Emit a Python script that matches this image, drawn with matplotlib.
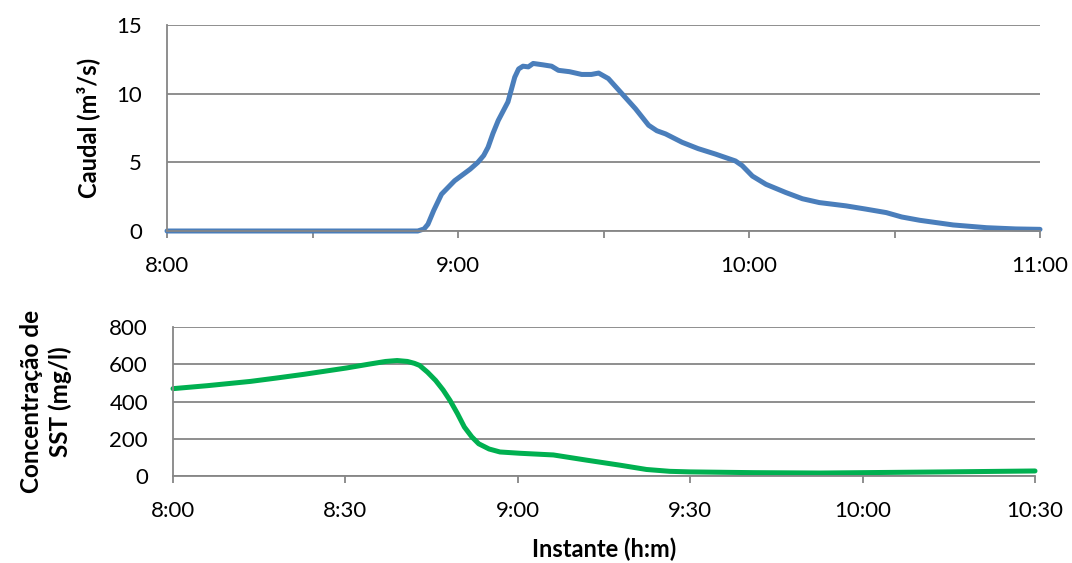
import matplotlib.pyplot as plt

plt.rcParams['font.family'] = ['Lato', 'DejaVu Sans']

# minutes after 8:00
caudal_t = [0, 51.7, 53.0, 53.8, 55.0, 56.6, 59.3, 62.5, 64.1, 65.3, 66.2, 67.2, 68.3,
            70.3, 71.0, 71.7, 72.5, 73.4, 74.5, 75.5, 77.5, 79.3, 80.7, 83.0, 85.5,
            87.5, 89.0, 91.0, 93.8, 96.6, 99.3, 101.0, 102.8, 106.2, 109.5, 113.1,
            117.2, 118.6, 120.7, 123.5, 127.6, 131.0, 134.5, 140.0, 144.0, 148.3,
            151.5, 155.2, 162.1, 169.0, 175.0, 180.0]
caudal_q = [0, 0, 0.15, 0.49, 1.5, 2.68, 3.66, 4.5, 5.0, 5.5, 6.1, 7.1, 8.05,
            9.4, 10.3, 11.2, 11.8, 12.0, 11.95, 12.2, 12.1, 12.0, 11.7, 11.6, 11.4,
            11.4, 11.5, 11.1, 10.0, 8.9, 7.7, 7.3, 7.07, 6.46, 6.0, 5.6,
            5.1, 4.76, 4.0, 3.4, 2.8, 2.35, 2.07, 1.83, 1.6, 1.34,
            1.02, 0.78, 0.44, 0.24, 0.15, 0.12]

sst_t = [0, 6.0, 13.5, 18.0, 22.8, 30.2, 34.0, 37.0, 39.0, 40.8, 42.0, 42.9, 44.3,
         45.7, 47.0, 48.2, 49.5, 50.7, 52.0, 53.2, 55.0, 56.9, 60.4, 66.2, 72.0,
         77.8, 82.4, 86.5, 90.0, 101.0, 112.6, 120.0, 134.4, 150.0]
sst_c = [469, 485, 508, 526, 546, 580, 600, 615, 620, 615, 605, 594, 557,
         513, 462, 406, 335, 263, 210, 173, 145, 129, 122, 113, 85,
         58, 35, 25, 22, 18, 16, 18, 22, 27]

top_ticks = [0, 30, 60, 90, 120, 150, 180]
top_labels = ['8:00', '', '9:00', '', '10:00', '', '11:00']
bot_ticks = [0, 30, 60, 90, 120, 150]
bot_labels = ['8:00', '8:30', '9:00', '9:30', '10:00', '10:30']

W, H = 1072, 563
fig = plt.figure(figsize=(W / 100, H / 100), dpi=100)
ax1 = fig.add_axes([167 / W, 1 - 231 / H, (1040 - 167) / W, (231 - 25) / H])
ax2 = fig.add_axes([173 / W, 1 - 476 / H, (1035 - 173) / W, (476 - 327) / H])

grid_c = '#868686'
for ax in (ax1, ax2):
    for s in ('top', 'right'):
        ax.spines[s].set_visible(False)
    for s in ('left', 'bottom'):
        ax.spines[s].set_color(grid_c)
        ax.spines[s].set_linewidth(1.3)
    ax.yaxis.grid(True, color=grid_c, linewidth=1.3)
    ax.set_axisbelow(True)
    ax.tick_params(axis='x', length=5, width=1.3, color=grid_c, pad=13, labelsize=16)
    ax.tick_params(axis='y', length=0, pad=18, labelsize=16)

ax1.plot(caudal_t, caudal_q, color='#4a7ebb', linewidth=3.6, solid_joinstyle='round',
         solid_capstyle='round', clip_on=False)
ax1.set_xlim(0, 180)
ax1.set_ylim(0, 15)
ax1.set_yticks([0, 5, 10, 15])
ax1.set_xticks(top_ticks)
ax1.set_xticklabels(top_labels)
ax1.set_ylabel('Caudal (m³/s)', fontsize=17, fontweight='bold', labelpad=12)

ax2.plot(sst_t, sst_c, color='#00b050', linewidth=3.6, solid_joinstyle='round',
         solid_capstyle='round', clip_on=False)
ax2.set_xlim(0, 150)
ax2.set_ylim(0, 800)
ax2.set_yticks([0, 200, 400, 600, 800])
ax2.set_xticks(bot_ticks)
ax2.set_xticklabels(bot_labels)
ax2.set_ylabel('Concentração de\nSST (mg/l)', fontsize=17.5, fontweight='bold', labelpad=27,
               linespacing=1.25)
ax2.set_xlabel('Instante (h:m)', fontsize=17, fontweight='bold', labelpad=12)

fig.savefig('out.png', dpi=100)
